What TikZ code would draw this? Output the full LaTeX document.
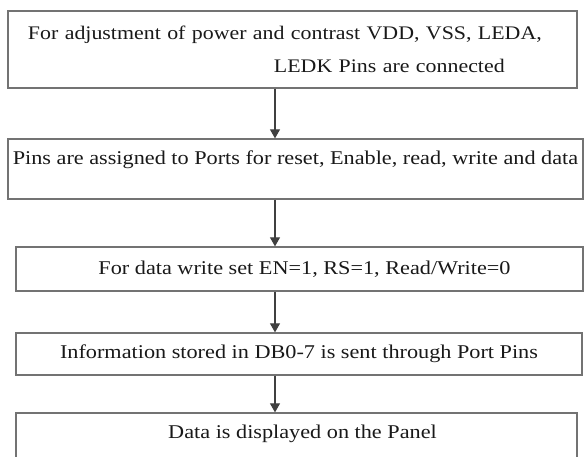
\documentclass[tikz,border=0pt]{standalone}
\usepackage{fontspec}
\setmainfont{Liberation Serif}[FakeStretch=1.14]
\usetikzlibrary{arrows.meta,positioning}
\tikzset{
  flowbox/.style = {rectangle, draw=black!55, line width=1.3pt, inner sep=0pt,
    text=black!90, font=\fontsize{19.5}{33}\selectfont},% boite du schema
  flow_arr/.style = {-{Triangle[width=10pt,length=9pt]}, draw=black!75,
    line width=1.1pt}% fleche entre deux boites
}

\begin{document}
\begin{tikzpicture}[x=1pt,y=-1pt]
  \clip (0,0) rectangle (584,457);
  \coordinate (ax) at (275,0);
  \node [flowbox, minimum width=569pt, minimum height=77pt, text width=569pt,
    align=left, font=\fontsize{19.2}{33}\selectfont] (B1) at (292.5,49.5)
    {\hspace*{20pt}For adjustment of power and contrast VDD, VSS, LEDA,\\
     \hspace*{266pt}LEDK Pins are connected};
  \node [flowbox, minimum width=575pt, text height=26pt, text depth=34pt]
    (B2) at (295.5,169)
    {Pins are assigned to Ports for reset, Enable, read, write and data};
  \node [flowbox, minimum width=567pt, minimum height=44pt] (B3) at (299.5,269)
    {\hspace*{10pt}For data write set EN=1, RS=1, Read/Write=0};
  \node [flowbox, minimum width=566pt, minimum height=42pt] (B4) at (299,354)
    {Information stored in DB0-7 is sent through Port Pins};
  \node [flowbox, minimum width=561pt, text height=25pt, text depth=35pt]
    (B5) at (296.5,443)
    {\hspace*{12pt}Data is displayed on the Panel};

  \draw [flow_arr] (B1.south -| ax) -- (B2.north -| ax);
  \draw [flow_arr] (B2.south -| ax) -- (B3.north -| ax);
  \draw [flow_arr] (B3.south -| ax) -- (B4.north -| ax);
  \draw [flow_arr] (B4.south -| ax) -- (B5.north -| ax);
\end{tikzpicture}
\end{document}
